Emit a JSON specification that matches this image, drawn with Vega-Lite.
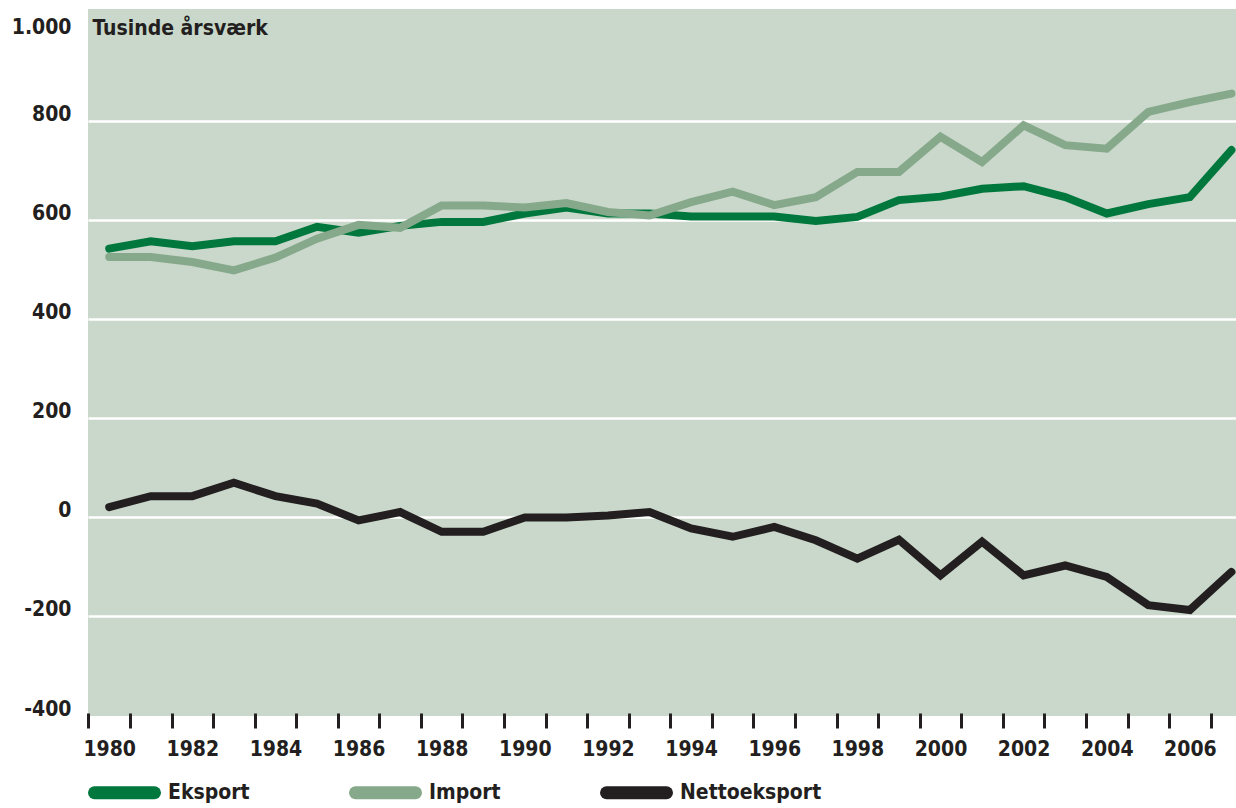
{
  "$schema": "https://vega.github.io/schema/vega-lite/v6.json",
  "autosize": {"type": "none"},
  "padding": {"left": 88, "top": 9, "right": 0, "bottom": 92},
  "width": 1148,
  "height": 707,
  "background": "white",
  "config": {
    "view": {"fill": "#c9d8ca", "stroke": null},
    "font": "DejaVu Sans Condensed",
    "axis": {"labelFont": "DejaVu Sans Condensed", "labelColor": "#231f20", "labelFontWeight": "bold", "labelFontSize": 21}
  },
  "data": {"values": [
    {"year": 1980, "series": "Eksport", "value": 542},
    {"year": 1981, "series": "Eksport", "value": 557},
    {"year": 1982, "series": "Eksport", "value": 547},
    {"year": 1983, "series": "Eksport", "value": 557},
    {"year": 1984, "series": "Eksport", "value": 557},
    {"year": 1985, "series": "Eksport", "value": 586},
    {"year": 1986, "series": "Eksport", "value": 574},
    {"year": 1987, "series": "Eksport", "value": 588},
    {"year": 1988, "series": "Eksport", "value": 596},
    {"year": 1989, "series": "Eksport", "value": 596},
    {"year": 1990, "series": "Eksport", "value": 613},
    {"year": 1991, "series": "Eksport", "value": 625},
    {"year": 1992, "series": "Eksport", "value": 613},
    {"year": 1993, "series": "Eksport", "value": 613},
    {"year": 1994, "series": "Eksport", "value": 607},
    {"year": 1995, "series": "Eksport", "value": 607},
    {"year": 1996, "series": "Eksport", "value": 607},
    {"year": 1997, "series": "Eksport", "value": 598},
    {"year": 1998, "series": "Eksport", "value": 606},
    {"year": 1999, "series": "Eksport", "value": 640},
    {"year": 2000, "series": "Eksport", "value": 647},
    {"year": 2001, "series": "Eksport", "value": 663},
    {"year": 2002, "series": "Eksport", "value": 668},
    {"year": 2003, "series": "Eksport", "value": 646},
    {"year": 2004, "series": "Eksport", "value": 613},
    {"year": 2005, "series": "Eksport", "value": 632},
    {"year": 2006, "series": "Eksport", "value": 646},
    {"year": 2007, "series": "Eksport", "value": 741},
    {"year": 1980, "series": "Import", "value": 525},
    {"year": 1981, "series": "Import", "value": 525},
    {"year": 1982, "series": "Import", "value": 515},
    {"year": 1983, "series": "Import", "value": 498},
    {"year": 1984, "series": "Import", "value": 524},
    {"year": 1985, "series": "Import", "value": 562},
    {"year": 1986, "series": "Import", "value": 590},
    {"year": 1987, "series": "Import", "value": 584},
    {"year": 1988, "series": "Import", "value": 629},
    {"year": 1989, "series": "Import", "value": 629},
    {"year": 1990, "series": "Import", "value": 625},
    {"year": 1991, "series": "Import", "value": 634},
    {"year": 1992, "series": "Import", "value": 616},
    {"year": 1993, "series": "Import", "value": 609},
    {"year": 1994, "series": "Import", "value": 636},
    {"year": 1995, "series": "Import", "value": 657},
    {"year": 1996, "series": "Import", "value": 630},
    {"year": 1997, "series": "Import", "value": 646},
    {"year": 1998, "series": "Import", "value": 697},
    {"year": 1999, "series": "Import", "value": 697},
    {"year": 2000, "series": "Import", "value": 768},
    {"year": 2001, "series": "Import", "value": 717},
    {"year": 2002, "series": "Import", "value": 791},
    {"year": 2003, "series": "Import", "value": 751},
    {"year": 2004, "series": "Import", "value": 744},
    {"year": 2005, "series": "Import", "value": 818},
    {"year": 2006, "series": "Import", "value": 838},
    {"year": 2007, "series": "Import", "value": 855},
    {"year": 1980, "series": "Nettoeksport", "value": 20},
    {"year": 1981, "series": "Nettoeksport", "value": 42},
    {"year": 1982, "series": "Nettoeksport", "value": 42},
    {"year": 1983, "series": "Nettoeksport", "value": 69},
    {"year": 1984, "series": "Nettoeksport", "value": 42},
    {"year": 1985, "series": "Nettoeksport", "value": 27},
    {"year": 1986, "series": "Nettoeksport", "value": -7},
    {"year": 1987, "series": "Nettoeksport", "value": 10},
    {"year": 1988, "series": "Nettoeksport", "value": -30},
    {"year": 1989, "series": "Nettoeksport", "value": -30},
    {"year": 1990, "series": "Nettoeksport", "value": -1},
    {"year": 1991, "series": "Nettoeksport", "value": -1},
    {"year": 1992, "series": "Nettoeksport", "value": 3},
    {"year": 1993, "series": "Nettoeksport", "value": 10},
    {"year": 1994, "series": "Nettoeksport", "value": -23},
    {"year": 1995, "series": "Nettoeksport", "value": -40},
    {"year": 1996, "series": "Nettoeksport", "value": -20},
    {"year": 1997, "series": "Nettoeksport", "value": -47},
    {"year": 1998, "series": "Nettoeksport", "value": -84},
    {"year": 1999, "series": "Nettoeksport", "value": -46},
    {"year": 2000, "series": "Nettoeksport", "value": -118},
    {"year": 2001, "series": "Nettoeksport", "value": -50},
    {"year": 2002, "series": "Nettoeksport", "value": -118},
    {"year": 2003, "series": "Nettoeksport", "value": -98},
    {"year": 2004, "series": "Nettoeksport", "value": -121},
    {"year": 2005, "series": "Nettoeksport", "value": -178},
    {"year": 2006, "series": "Nettoeksport", "value": -188},
    {"year": 2007, "series": "Nettoeksport", "value": -111}
  ]},
  "mark": {"type": "line", "strokeWidth": 8, "strokeJoin": "miter", "strokeCap": "round", "clip": true},
  "encoding": {
    "x": {
      "field": "year", "type": "quantitative",
      "scale": {"domain": [1979.49, 2007.11], "nice": false, "zero": false},
      "axis": {
        "title": null, "domain": false, "grid": false,
        "values": [1979.5,1980.5,1981.5,1982.5,1983.5,1984.5,1985.5,1986.5,1987.5,1988.5,1989.5,1990.5,1991.5,1992.5,1993.5,1994.5,1995.5,1996.5,1997.5,1998.5,1999.5,2000.5,2001.5,2002.5,2003.5,2004.5,2005.5,2006.5],
        "labelExpr": "(datum.value + 0.5) % 2 == 0 ? '' + (datum.value + 0.5) : ''",
        "labelOffset": 20.8, "labelOverlap": false, "labelBound": false, "labelFlush": false,
        "ticks": true, "tickColor": "#231f20", "tickWidth": 3, "tickSize": 15, "offset": -3,
        "labelPadding": 10, "labelBaseline": "top"
      }
    },
    "y": {
      "field": "value", "type": "quantitative",
      "scale": {"domain": [-402, 1026], "nice": false, "zero": false},
      "axis": {
        "title": "Tusinde årsværk",
        "titleAngle": 0, "titleAlign": "left", "titleBaseline": "alphabetic",
        "titleX": 4, "titleY": 25, "titleFont": "DejaVu Sans Condensed", "titleFontSize": 21, "titleFontWeight": "bold", "titleColor": "#231f20",
        "values": [-400, -200, 0, 200, 400, 600, 800, 1000],
        "labelExpr": "datum.value == 1000 ? '1.000' : (datum.value < 0 ? '-' + abs(datum.value) : '' + datum.value)",
        "domain": false, "ticks": false, "labelPadding": 17, "labelBaseline": "alphabetic",
        "labelOffset": {"condition": {"test": "datum.value >= 1000", "value": 12}, "value": 0},
        "grid": true, "gridColor": "white", "gridWidth": 2.5,
        "gridOpacity": {"condition": {"test": "datum.value <= -400 || datum.value >= 1000", "value": 0}, "value": 1}
      }
    },
    "color": {
      "field": "series", "type": "nominal",
      "scale": {"domain": ["Eksport", "Import", "Nettoeksport"], "range": ["#00773d", "#86a98b", "#231f20"]},
      "legend": {
        "title": null, "orient": "none", "direction": "horizontal", "legendX": 0, "legendY": 747,
        "symbolType": "stroke", "symbolSize": 3600, "symbolStrokeWidth": 13,
        "labelFont": "DejaVu Sans Condensed", "labelFontSize": 21, "labelFontWeight": "bold", "labelColor": "#231f20",
        "labelOffset": 7, "columnPadding": 79, "padding": 0,
        "encode": {"symbols": {"update": {"strokeCap": {"value": "round"}}}}
      }
    }
  }
}
